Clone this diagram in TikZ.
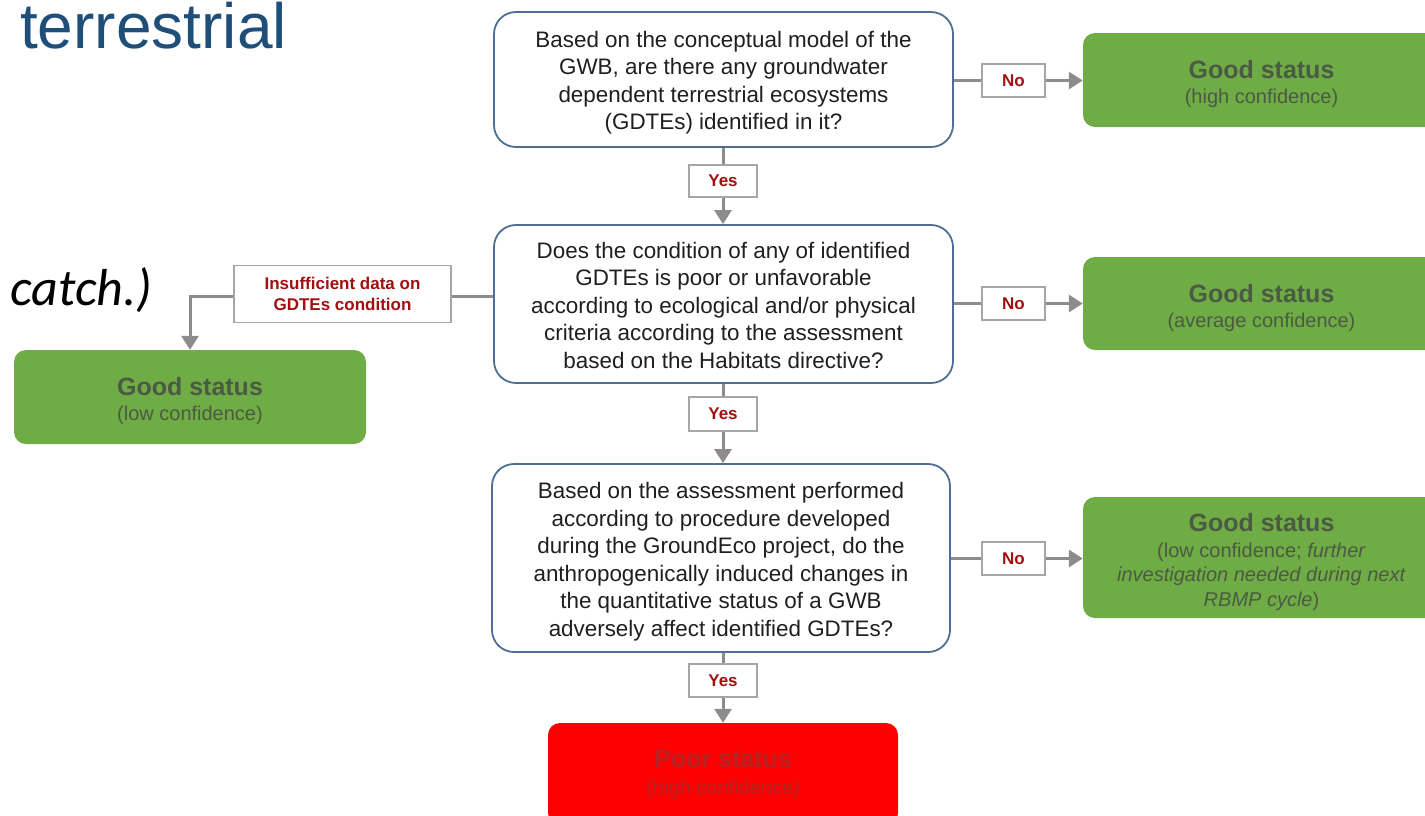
\documentclass[tikz,border=0pt]{standalone}
\usepackage{fontspec}
\setmainfont{Liberation Sans}
\newfontfamily\calibri{Carlito}
\usetikzlibrary{arrows.meta}
\definecolor{qborder}{HTML}{4E6F92}
\definecolor{qtext}{HTML}{1F1F1F}
\definecolor{ggreen}{HTML}{6FAC46}
\definecolor{gtext}{HTML}{4B5A42}
\definecolor{pred}{HTML}{FF0000}
\definecolor{ptext}{HTML}{B42424}
\definecolor{lgray}{HTML}{A6A6A6}
\definecolor{dred}{HTML}{A01010}
\definecolor{cgray}{HTML}{8C8C8C}
\definecolor{tblue}{HTML}{1F4E79}
\tikzset{
  qbox/.style={draw=qborder, line width=1.8pt, rounded corners=22pt, fill=white, align=center,
    text=qtext, inner sep=0pt, font=\fontsize{22.4}{27.5}\selectfont},
  gbox/.style={fill=ggreen, rounded corners=12pt, align=center, text=gtext, inner sep=0pt,
    font=\fontsize{20}{25}\selectfont},
  pbox/.style={fill=pred, rounded corners=12pt, align=center, text=ptext, inner sep=0pt,
    font=\fontsize{20}{27}\selectfont},
  lbox/.style={draw=lgray, fill=white, line width=1.5pt, text=dred, align=center, inner sep=0pt,
    font=\fontsize{17}{21}\selectfont\bfseries},
  conn/.style={draw=cgray, line width=3pt},
  arr/.style={conn, -{Triangle[length=14pt,width=17pt]}},
}
\newcommand{\gtitle}[1]{{\fontsize{25}{28}\selectfont\bfseries\rule{0pt}{26.5pt}#1}}
\newcommand{\ptitle}[1]{{\fontsize{25}{28}\selectfont\bfseries #1}}
\begin{document}
\begin{tikzpicture}[x=1pt,y=-1pt]
\useasboundingbox (0,0) rectangle (1425,815);
\clip (0,0) rectangle (1425,815);
% background fragments
\node[anchor=base west, inner sep=0pt, text=tblue, font=\fontsize{64}{70}\selectfont] (title) at (20,48) {terrestrial};
\node[anchor=base west, inner sep=0pt, text=black, font=\fontsize{52}{58}\calibri\itshape] (catch) at (10,305) {catch.)};
% questions
\node[qbox, minimum width=459pt, minimum height=135pt] (q1) at (723.5,79.5)
  {\rule{0pt}{22.5pt}Based on the conceptual model of the\\GWB, are there any groundwater\\dependent terrestrial ecosystems\\(GDTEs) identified in it?};
\node[qbox, minimum width=459pt, minimum height=158pt] (q2) at (723.5,304)
  {\rule{0pt}{19pt}Does the condition of any of identified\\GDTEs is poor or unfavorable\\according to ecological and/or physical\\criteria according to the assessment\\based on the Habitats directive?};
\node[qbox, minimum width=458pt, minimum height=188pt] (q3) at (721,558)
  {\rule{0pt}{24pt}Based on the assessment performed\\according to procedure developed\\during the GroundEco project, do the\\anthropogenically induced changes in\\the quantitative status of a GWB\\adversely affect identified GDTEs?};
% outcomes
\node[gbox, minimum width=357pt, minimum height=94pt] (g1) at (1261.5,80)
  {\gtitle{Good status}\\(high confidence)};
\node[gbox, minimum width=357pt, minimum height=93pt] (g2) at (1261.5,303.5)
  {\gtitle{Good status}\\(average confidence)};
\node[gbox, minimum width=357pt, minimum height=121pt] (g3) at (1261.5,557.5)
  {\gtitle{Good status}\\[1pt](low confidence; \textit{further}\\[-0.5pt]\textit{investigation needed during next}\\[-0.5pt]\textit{RBMP cycle})};
\node[gbox, minimum width=352pt, minimum height=94pt] (g4) at (190,397)
  {\gtitle{Good status}\\(low confidence)};
\node[pbox, minimum width=350pt, minimum height=102pt] (poor) at (723,774)
  {\ptitle{Poor status}\\(high confidence)};
% labels
\node[lbox, minimum width=68pt, minimum height=32pt] (yes1) at (723,181) {Yes};
\node[lbox, minimum width=68pt, minimum height=34pt] (yes2) at (723,414) {Yes};
\node[lbox, minimum width=68pt, minimum height=33pt] (yes3) at (723,680.5) {Yes};
\node[lbox, minimum width=63pt, minimum height=33pt] (no1) at (1013.5,80.5) {No};
\node[lbox, minimum width=63pt, minimum height=33pt] (no2) at (1013.5,303.5) {No};
\node[lbox, minimum width=63pt, minimum height=33pt] (no3) at (1013.5,558.5) {No};
\node[lbox, minimum width=217pt, minimum height=57pt] (ins) at (342.5,294) {Insufficient data on\\GDTEs condition};
% connectors
\draw[conn] (q1.south -| yes1) -- (yes1.north);
\draw[arr] (yes1.south) -- (yes1.south |- q2.north);
\draw[conn] (q2.south -| yes2) -- (yes2.north);
\draw[arr] (yes2.south) -- (yes2.south |- q3.north);
\draw[conn] (q3.south -| yes3) -- (yes3.north);
\draw[arr] (yes3.south) -- (yes3.south |- poor.north);
\draw[conn] (no1.west -| q1.east) -- (no1.west);
\draw[arr] (no1.east) -- (no1.east -| g1.west);
\draw[conn] (no2.west -| q2.east) -- (no2.west);
\draw[arr] (no2.east) -- (no2.east -| g2.west);
\draw[conn] (no3.west -| q3.east) -- (no3.west);
\draw[arr] (no3.east) -- (no3.east -| g3.west);
\coordinate (insR) at ([yshift=-2pt]ins.east);
\coordinate (insL) at ([yshift=-2pt]ins.west);
\draw[conn] (insR -| q2.west) -- (insR);
\draw[arr] (insL) -- (insL -| g4.north) -- (g4.north);
\end{tikzpicture}
\end{document}
